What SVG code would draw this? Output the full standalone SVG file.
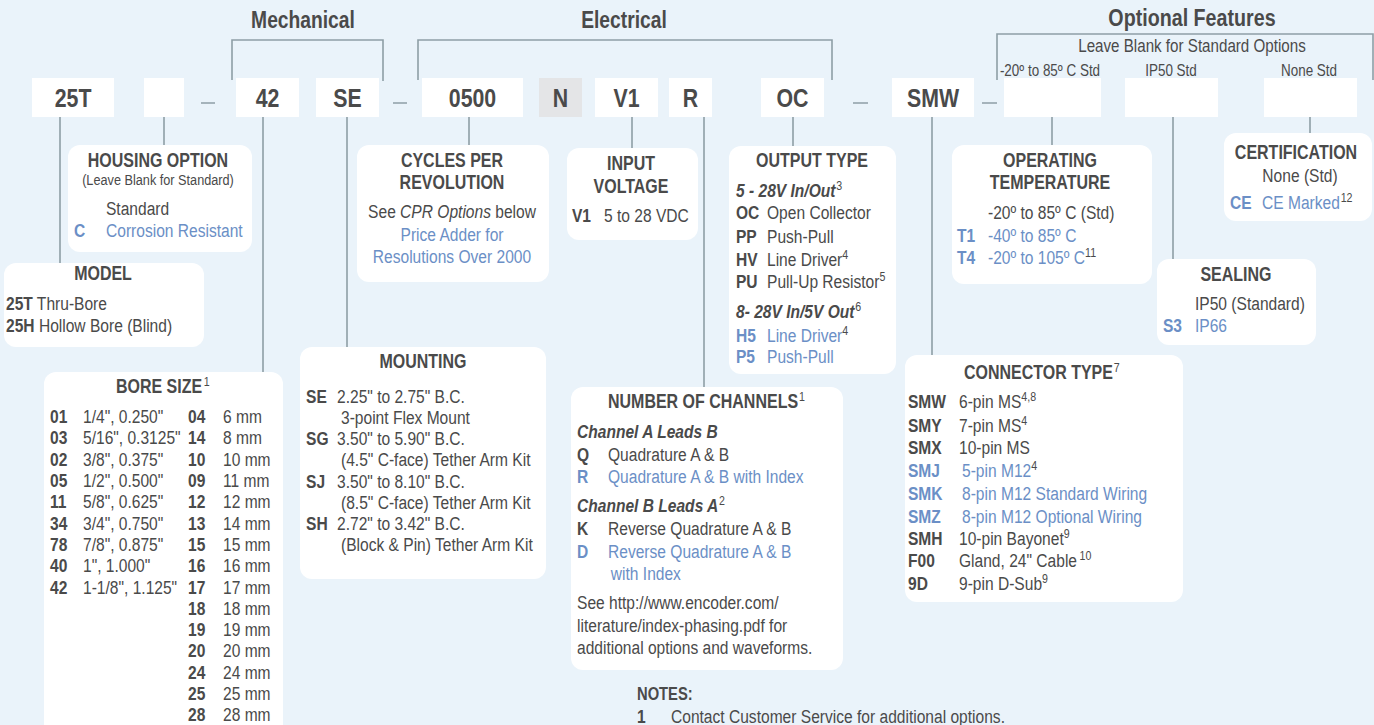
<svg xmlns="http://www.w3.org/2000/svg" width="1374" height="725" viewBox="0 0 1374 725">
<style>
text{font-family:"Liberation Sans",Arial,sans-serif;fill:#4a4a4a;font-size:19px;transform:scaleX(.82);transform-box:fill-box;transform-origin:0 0}
.b{font-weight:bold}
.i{font-style:italic}
.bl{fill:#6b8fc6}
.code{font-weight:bold;font-size:26px;text-anchor:middle}
.hd{font-weight:bold;font-size:23.5px;text-anchor:middle}
.ti{font-weight:bold;font-size:19.5px}
.m{text-anchor:middle}
.m,.code,.hd,.std{transform-origin:50% 0}
.sup{font-size:13px}
.std{font-size:16.4px;text-anchor:middle}
.box{fill:#fff}
.card{fill:#fff}
.ln{stroke:#8e9ea6;stroke-width:1.6;fill:none}
</style>
<rect width="1374" height="725" fill="#eaf3fa"/>

<g id="headings">
<text class="hd" x="303" y="28">Mechanical</text>
<text class="hd" x="624" y="28">Electrical</text>
<text class="hd" x="1192" y="26" style="font-size:24px">Optional Features</text>
<text class="m" x="1192" y="52" style="font-size:18.5px">Leave Blank for Standard Options</text>
<text class="std" x="1050" y="76">-20º to 85º C Std</text>
<text class="std" x="1171" y="76">IP50 Std</text>
<text class="std" x="1309" y="76">None Std</text>
</g>

<g id="connectors">
<path class="ln" d="M232,80V40H383V81"/>
<path class="ln" d="M418,80V40H832V80"/>
<path class="ln" d="M997,80V34H1373V80"/>
<path class="ln" d="M201,103H215M393,103H407M853,103H868M982,103H997"/>
<path class="ln" d="M60,117V263M164,117V145M263,117V372M347,117V347M469,117V145M632,117V148M704,117V387M793,117V146M932,117V355M1052,117V145M1173,117V259M1310,117V133"/>
</g>

<g id="code-25T"><rect class="box" x="32" y="78" width="82" height="39"/><text class="code" x="73" y="107">25T</text></g>
<g id="code-housing"><rect class="box" x="144" y="78" width="40" height="39"/></g>
<g id="code-42"><rect class="box" x="236" y="78" width="63" height="39"/><text class="code" x="267.5" y="107">42</text></g>
<g id="code-SE"><rect class="box" x="316" y="78" width="63" height="39"/><text class="code" x="347.5" y="107">SE</text></g>
<g id="code-0500"><rect class="box" x="422" y="78" width="101" height="39"/><text class="code" x="472.5" y="107">0500</text></g>
<g id="code-N"><rect x="539" y="78" width="43" height="39" fill="#e4e5e7"/><text class="code" x="560.5" y="107">N</text></g>
<g id="code-V1"><rect class="box" x="595" y="78" width="63" height="39"/><text class="code" x="626.5" y="107">V1</text></g>
<g id="code-R"><rect class="box" x="669" y="78" width="43" height="39"/><text class="code" x="690.5" y="107">R</text></g>
<g id="code-OC"><rect class="box" x="761" y="78" width="63" height="39"/><text class="code" x="792.5" y="107">OC</text></g>
<g id="code-SMW"><rect class="box" x="892" y="78" width="82" height="39"/><text class="code" x="933" y="107">SMW</text></g>
<g id="code-temp"><rect class="box" x="1004" y="78" width="97" height="39"/></g>
<g id="code-seal"><rect class="box" x="1125" y="78" width="93" height="39"/></g>
<g id="code-cert"><rect class="box" x="1264" y="78" width="93" height="39"/></g>

<g id="housing">
<rect class="card" x="68" y="145" width="184" height="107" rx="12"/>
<text class="ti m" x="158" y="167">HOUSING OPTION</text>
<text class="m" x="158" y="185" style="font-size:15.5px">(Leave Blank for Standard)</text>
<text x="106" y="215">Standard</text>
<text class="b bl" x="74" y="237">C</text>
<text class="bl" x="106" y="237">Corrosion Resistant</text>
</g>

<g id="model">
<rect class="card" x="4" y="263" width="200" height="84" rx="12"/>
<text class="ti m" x="103" y="280">MODEL</text>
<text x="6" y="310"><tspan class="b">25T</tspan> Thru-Bore</text>
<text x="6" y="332"><tspan class="b">25H</tspan> Hollow Bore (Blind)</text>
</g>

<g id="bore-size">
<rect class="card" x="44" y="372" width="239" height="380" rx="12"/>
<text class="ti" x="116" y="393">BORE SIZE<tspan class="sup" font-weight="normal" dx="2" dy="-7">1</tspan></text>
<text class="b" x="50" y="423">01</text><text class="b" x="50" y="444.5">03</text><text class="b" x="50" y="466">02</text>
<text class="b" x="50" y="487">05</text><text class="b" x="50" y="508.5">11</text><text class="b" x="50" y="530">34</text>
<text class="b" x="50" y="551">78</text><text class="b" x="50" y="572.5">40</text><text class="b" x="50" y="594">42</text>
<text x="83" y="423">1/4", 0.250"</text><text x="83" y="444.5">5/16", 0.3125"</text><text x="83" y="466">3/8", 0.375"</text>
<text x="83" y="487">1/2", 0.500"</text><text x="83" y="508.5">5/8", 0.625"</text><text x="83" y="530">3/4", 0.750"</text>
<text x="83" y="551">7/8", 0.875"</text><text x="83" y="572.5">1", 1.000"</text><text x="83" y="594">1-1/8", 1.125"</text>
<text class="b" x="188" y="423">04</text><text class="b" x="188" y="444.5">14</text><text class="b" x="188" y="466">10</text>
<text class="b" x="188" y="487">09</text><text class="b" x="188" y="508.5">12</text><text class="b" x="188" y="530">13</text>
<text class="b" x="188" y="551">15</text><text class="b" x="188" y="572.5">16</text><text class="b" x="188" y="594">17</text>
<text class="b" x="188" y="615">18</text><text class="b" x="188" y="636.5">19</text><text class="b" x="188" y="657.5">20</text>
<text class="b" x="188" y="679">24</text><text class="b" x="188" y="700">25</text><text class="b" x="188" y="721.5">28</text>
<text x="223" y="423">6 mm</text><text x="223" y="444.5">8 mm</text><text x="223" y="466">10 mm</text>
<text x="223" y="487">11 mm</text><text x="223" y="508.5">12 mm</text><text x="223" y="530">14 mm</text>
<text x="223" y="551">15 mm</text><text x="223" y="572.5">16 mm</text><text x="223" y="594">17 mm</text>
<text x="223" y="615">18 mm</text><text x="223" y="636.5">19 mm</text><text x="223" y="657.5">20 mm</text>
<text x="223" y="679">24 mm</text><text x="223" y="700">25 mm</text><text x="223" y="721.5">28 mm</text>
</g>

<g id="mounting">
<rect class="card" x="300" y="347" width="246" height="232" rx="12"/>
<text class="ti m" x="423" y="368">MOUNTING</text>
<text class="b" x="306" y="403">SE</text><text x="337" y="403">2.25" to 2.75" B.C.</text>
<text x="341" y="424">3-point Flex Mount</text>
<text class="b" x="306" y="445.5">SG</text><text x="337" y="445.5">3.50" to 5.90" B.C.</text>
<text x="341" y="466.5">(4.5" C-face) Tether Arm Kit</text>
<text class="b" x="306" y="488">SJ</text><text x="337" y="488">3.50" to 8.10" B.C.</text>
<text x="341" y="509">(8.5" C-face) Tether Arm Kit</text>
<text class="b" x="306" y="530">SH</text><text x="337" y="530">2.72" to 3.42" B.C.</text>
<text x="341" y="551">(Block &amp; Pin) Tether Arm Kit</text>
</g>

<g id="cpr">
<rect class="card" x="357" y="145" width="192" height="137" rx="12"/>
<text class="ti m" x="452" y="167">CYCLES PER</text>
<text class="ti m" x="452" y="189">REVOLUTION</text>
<text class="m" x="452" y="218">See <tspan class="i">CPR Options</tspan> below</text>
<text class="m bl" x="452" y="241">Price Adder for</text>
<text class="m bl" x="452" y="263">Resolutions Over 2000</text>
</g>

<g id="input-voltage">
<rect class="card" x="567" y="148" width="131" height="92" rx="12"/>
<text class="ti m" x="631" y="170">INPUT</text>
<text class="ti m" x="631" y="193">VOLTAGE</text>
<text class="b" x="572" y="222">V1</text><text x="604" y="222">5 to 28 VDC</text>
</g>

<g id="output-type">
<rect class="card" x="729" y="146" width="167" height="228" rx="12"/>
<text class="ti m" x="812" y="167">OUTPUT TYPE</text>
<text class="b i" x="736" y="197">5 - 28V In/Out<tspan class="sup" font-weight="normal" font-style="normal" dx="1" dy="-7">3</tspan></text>
<text class="b" x="736" y="219">OC</text><text x="767" y="219">Open Collector</text>
<text class="b" x="736" y="243">PP</text><text x="767" y="243">Push-Pull</text>
<text class="b" x="736" y="266">HV</text><text x="767" y="266">Line Driver<tspan class="sup" dy="-7">4</tspan></text>
<text class="b" x="736" y="288">PU</text><text x="767" y="288">Pull-Up Resistor<tspan class="sup" dy="-7">5</tspan></text>
<text class="b i" x="736" y="318">8- 28V In/5V Out<tspan class="sup" font-weight="normal" font-style="normal" dx="1" dy="-7">6</tspan></text>
<text class="b bl" x="736" y="342">H5</text><text x="767" y="342"><tspan class="bl">Line Driver</tspan><tspan class="sup" dy="-7">4</tspan></text>
<text class="b bl" x="736" y="363">P5</text><text class="bl" x="767" y="363">Push-Pull</text>
</g>

<g id="channels">
<rect class="card" x="571" y="387" width="272" height="283" rx="12"/>
<text class="ti" x="608" y="408">NUMBER OF CHANNELS<tspan class="sup" font-weight="normal" dx="1" dy="-7">1</tspan></text>
<text class="b i" x="577" y="438">Channel A Leads B</text>
<text class="b" x="577" y="461">Q</text><text x="608" y="461">Quadrature A &amp; B</text>
<text class="b bl" x="577" y="483">R</text><text class="bl" x="608" y="483">Quadrature A &amp; B with Index</text>
<text class="b i" x="577" y="512">Channel B Leads A<tspan class="sup" font-weight="normal" font-style="normal" dx="1" dy="-7">2</tspan></text>
<text class="b" x="577" y="535">K</text><text x="608" y="535">Reverse Quadrature A &amp; B</text>
<text class="b bl" x="577" y="558">D</text><text class="bl" x="608" y="558">Reverse Quadrature A &amp; B</text>
<text class="bl" x="611" y="580">with Index</text>
<text x="577" y="609">See http://www.encoder.com/</text>
<text x="577" y="632">literature/index-phasing.pdf for</text>
<text x="577" y="654">additional options and waveforms.</text>
</g>

<g id="operating-temperature">
<rect class="card" x="952" y="145" width="200" height="139" rx="12"/>
<text class="ti m" x="1050" y="167">OPERATING</text>
<text class="ti m" x="1050" y="189">TEMPERATURE</text>
<text x="988" y="219">-20º to 85º C (Std)</text>
<text class="b bl" x="957" y="242">T1</text><text class="bl" x="988" y="242">-40º to 85º C</text>
<text class="b bl" x="957" y="264">T4</text><text x="988" y="264"><tspan class="bl">-20º to 105º C</tspan><tspan class="sup" dy="-7">11</tspan></text>
</g>

<g id="certification">
<rect class="card" x="1224" y="133" width="148" height="88" rx="12"/>
<text class="ti m" x="1296" y="159">CERTIFICATION</text>
<text class="m" x="1300" y="182">None (Std)</text>
<text class="b bl" x="1230" y="209">CE</text><text x="1262" y="209"><tspan class="bl">CE Marked</tspan><tspan class="sup" dx="1" dy="-7">12</tspan></text>
</g>

<g id="sealing">
<rect class="card" x="1157" y="259" width="159" height="86" rx="12"/>
<text class="ti m" x="1236" y="281">SEALING</text>
<text x="1195" y="310">IP50 (Standard)</text>
<text class="b bl" x="1163" y="332">S3</text><text class="bl" x="1195" y="332">IP66</text>
</g>

<g id="connector-type">
<rect class="card" x="905" y="355" width="278" height="247" rx="12"/>
<text class="ti" x="964" y="379">CONNECTOR TYPE<tspan class="sup" font-weight="normal" dx="1" dy="-7">7</tspan></text>
<text class="b" x="908" y="408">SMW</text><text x="959" y="408">6-pin MS<tspan class="sup" dy="-7">4,8</tspan></text>
<text class="b" x="908" y="432">SMY</text><text x="959" y="432">7-pin MS<tspan class="sup" dy="-7">4</tspan></text>
<text class="b" x="908" y="454">SMX</text><text x="959" y="454">10-pin MS</text>
<text class="b bl" x="908" y="477">SMJ</text><text x="962" y="477"><tspan class="bl">5-pin M12</tspan><tspan class="sup" dy="-7">4</tspan></text>
<text class="b bl" x="908" y="500">SMK</text><text class="bl" x="962" y="500">8-pin M12 Standard Wiring</text>
<text class="b bl" x="908" y="523">SMZ</text><text class="bl" x="962" y="523">8-pin M12 Optional Wiring</text>
<text class="b" x="908" y="545">SMH</text><text x="959" y="545">10-pin Bayonet<tspan class="sup" dy="-7">9</tspan></text>
<text class="b" x="908" y="567">F00</text><text x="959" y="567">Gland, 24" Cable<tspan class="sup" dx="3" dy="-7">10</tspan></text>
<text class="b" x="908" y="590">9D</text><text x="959" y="590">9-pin D-Sub<tspan class="sup" dy="-7">9</tspan></text>
</g>

<g id="notes">
<text class="b" x="637" y="700" style="font-size:18px">NOTES:</text>
<text class="b" x="637" y="723">1</text>
<text x="671" y="723">Contact Customer Service for additional options.</text>
</g>
</svg>
